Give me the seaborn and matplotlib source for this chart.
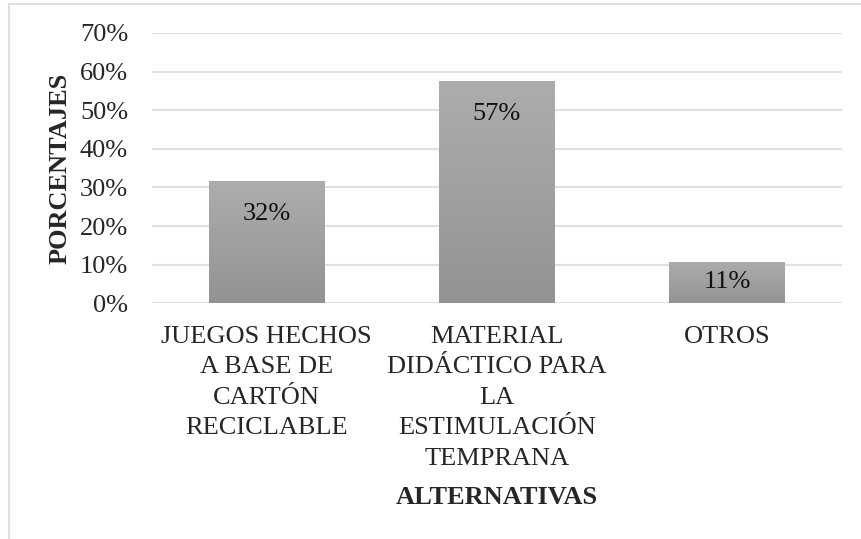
import numpy as np
import matplotlib
matplotlib.use("Agg")
import matplotlib.pyplot as plt
import seaborn as sns
from matplotlib.patches import Rectangle
from matplotlib.colors import LinearSegmentedColormap

categories = [
    "JUEGOS HECHOS\nA BASE DE\nCARTÓN\nRECICLABLE",
    "MATERIAL\nDIDÁCTICO PARA\nLA\nESTIMULACIÓN\nTEMPRANA",
    "OTROS",
]
values = [0.317, 0.576, 0.108]
value_labels = ["32%", "57%", "11%"]
y_ticks = [0.0, 0.1, 0.2, 0.3, 0.4, 0.5, 0.6, 0.7]
y_tick_labels = ["0%", "10%", "20%", "30%", "40%", "50%", "60%", "70%"]

sns.set_style("white")
plt.rcParams["font.family"] = ["Liberation Serif", "DejaVu Serif"]
FS = 19

fig = plt.figure(figsize=(8.62, 5.39), dpi=100)
ax = fig.add_axes([0.176, 0.437, 0.801, 0.502])

sns.barplot(x=categories, y=values, color="#a0a0a0", width=0.504, ax=ax,
            saturation=1, zorder=3)

# gradient fill clipped to each bar
grad = LinearSegmentedColormap.from_list("g", ["#939393", "#adadad"])
gimg = np.linspace(0, 1, 256).reshape(-1, 1)
for p in ax.patches:
    x0, y0 = p.get_x(), p.get_y()
    w, h = p.get_width(), p.get_height()
    im = ax.imshow(gimg, cmap=grad, aspect="auto", origin="lower",
                   extent=[x0, x0 + w, y0, y0 + h], zorder=3)
    im.set_clip_path(p)
    p.set_facecolor("none")
    p.set_edgecolor("none")

for i, (v, lab) in enumerate(zip(values, value_labels)):
    ypos = v - 0.086 if v > 0.2 else v * 0.52
    ax.text(i, ypos, lab, ha="center", va="center", fontsize=FS,
            color="#111111", zorder=5)

ax.set_xlim(-0.5, 2.5)
ax.set_ylim(0, 0.7)
ax.set_yticks(y_ticks)
ax.set_yticklabels(y_tick_labels, fontsize=FS)
ax.tick_params(axis="x", labelsize=FS, pad=16, length=0)
ax.tick_params(axis="y", pad=17, length=0)
for lbl in ax.get_xticklabels():
    lbl.set_linespacing(1.5)
    lbl.set_verticalalignment("top")

ax.yaxis.grid(True, color="#dde1e6", linewidth=1.5, zorder=0)
ax.set_axisbelow(True)
for s in ax.spines.values():
    s.set_visible(False)

ax.set_ylabel("PORCENTAJES", fontsize=FS, fontweight="bold", labelpad=6)
ax.set_xlabel("ALTERNATIVAS", fontsize=FS, fontweight="bold", labelpad=12)

fig.patches.append(Rectangle((9 / 862, -0.1), 1.2, 1.1 - 4 / 539,
                             transform=fig.transFigure, fill=False,
                             edgecolor="#dde1e6", linewidth=1.5))

fig.savefig("out.png", dpi=100)
